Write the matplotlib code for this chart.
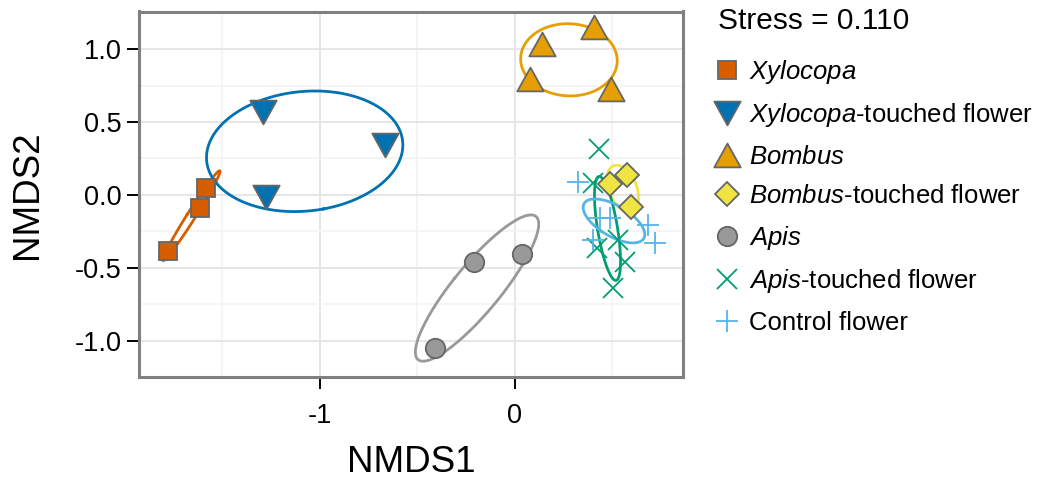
import numpy as np
import matplotlib
matplotlib.use("Agg")
import matplotlib.pyplot as plt
from matplotlib.path import Path

plt.rcParams['font.family'] = ['Liberation Sans', 'DejaVu Sans']
plt.rcParams['mathtext.fontset'] = 'custom'
plt.rcParams['mathtext.rm'] = 'Liberation Sans'
plt.rcParams['mathtext.it'] = 'Liberation Sans:italic'
plt.rcParams['axes.unicode_minus'] = False

# ---- data (NMDS scores) ----
xylocopa_x = [-1.778, -1.615, -1.585]
xylocopa_y = [-0.381, -0.091, 0.046]
xtouched_x = [-1.292, -0.667, -1.276]
xtouched_y = [0.568, 0.342, -0.012]
bombus_x = [0.137, 0.404, 0.075, 0.492]
bombus_y = [1.036, 1.153, 0.792, 0.723]
btouched_x = [0.487, 0.577, 0.594]
btouched_y = [0.075, 0.139, -0.080]
apis_x = [-0.410, -0.210, 0.037]
apis_y = [-1.046, -0.461, -0.406]
atouched_x = [0.432, 0.400, 0.530, 0.419, 0.564, 0.504]
atouched_y = [0.315, 0.079, -0.308, -0.365, -0.457, -0.639]
control_x = [0.325, 0.436, 0.487, 0.400, 0.682, 0.718]
control_y = [0.091, -0.158, -0.158, -0.308, -0.205, -0.329]

group_labels = [r'$\mathit{Xylocopa}$',
                r'$\mathit{Xylocopa}$-touched flower',
                r'$\mathit{Bombus}$',
                r'$\mathit{Bombus}$-touched flower',
                r'$\mathit{Apis}$',
                r'$\mathit{Apis}$-touched flower',
                'Control flower']
stress_text = 'Stress = 0.110'
x_ticks = [-1, 0]
y_ticks = [-1.0, -0.5, 0.0, 0.5, 1.0]

# ---- styles ----
tri_up = Path([(-1, -0.9), (1, -0.9), (0, 0.9), (-1, -0.9)],
              [Path.MOVETO, Path.LINETO, Path.LINETO, Path.CLOSEPOLY])
tri_dn = Path([(-1, 0.9), (1, 0.9), (0, -0.9), (-1, 0.9)],
              [Path.MOVETO, Path.LINETO, Path.LINETO, Path.CLOSEPOLY])
edge = '#666666'
groups = [
    (xylocopa_x, xylocopa_y, dict(marker='s', ms=13.5, mfc='#D55E00', mec=edge, mew=1.3), '#D55E00'),
    (xtouched_x, xtouched_y, dict(marker=tri_dn, ms=19, mfc='#0072B2', mec=edge, mew=1.3), '#0072B2'),
    (bombus_x, bombus_y, dict(marker=tri_up, ms=19, mfc='#E69F00', mec=edge, mew=1.3), '#E69F00'),
    (btouched_x, btouched_y, dict(marker='D', ms=12, mfc='#F0E442', mec=edge, mew=1.3), '#F0E442'),
    (apis_x, apis_y, dict(marker='o', ms=14, mfc='#999999', mec=edge, mew=1.3), '#999999'),
    (atouched_x, atouched_y, dict(marker='x', ms=15, mec='#009E73', mew=1.3), '#009E73'),
    (control_x, control_y, dict(marker='+', ms=16.5, mec='#56B4E9', mew=1.3), '#56B4E9'),
]

fig = plt.figure(figsize=(10.38, 4.8), dpi=100)
ax = fig.add_axes([139/1038, 103/480, 544/1038, 365.5/480])
ax.set_xlim(-1.928, 0.862)
ax.set_ylim(-1.247, 1.257)

chi = -2 * np.log(0.05)  # chi-square 0.95, 2 df
t = np.linspace(0, 2*np.pi, 200)
handles = []
for gx, gy, st, col in groups:
    pts = np.column_stack([gx, gy])
    n = len(pts)
    mu = pts.mean(axis=0)
    cov = np.cov(pts.T)
    vals, vecs = np.linalg.eigh(cov)
    vals = np.clip(vals, 0, None)
    k = np.sqrt(chi / n)
    circ = np.vstack([np.cos(t), np.sin(t)])
    ell = mu[:, None] + k * (vecs @ np.diag(np.sqrt(vals)) @ circ)
    ax.plot(ell[0], ell[1], color=col, lw=2.0, zorder=2)
for (gx, gy, st, col), lab in zip(groups, group_labels):
    h, = ax.plot(gx, gy, ls='none', zorder=3, label=lab, **st)
    handles.append(h)

# grid & axes styling
ax.set_xticks(x_ticks)
ax.set_xticks([-1.5, -0.5, 0.5], minor=True)
ax.set_yticks(y_ticks)
ax.set_yticks([-0.75, -0.25, 0.25, 0.75], minor=True)
ax.set_yticklabels([f'{v:.1f}' for v in y_ticks])
ax.set_xticklabels([f'{v:d}' for v in x_ticks])
ax.grid(True, which='major', color='#e6e6e6', lw=1.4, zorder=0)
ax.grid(True, which='minor', color='#f3f3f3', lw=1.2, zorder=0)
ax.set_axisbelow(True)
ax.tick_params(which='major', length=8.5, width=1.4, color='black',
               labelsize=19.5, pad=4)
ax.tick_params(axis='x', which='major', pad=10)
ax.tick_params(which='minor', length=0)
for s in ax.spines.values():
    s.set_color('#808080')
    s.set_linewidth(2.2)

ax.set_xlabel('NMDS1', fontsize=26.5, labelpad=12)
ax.set_ylabel('NMDS2', fontsize=26.5, labelpad=21)

fig.text(718/1038, 1 - 21/480, stress_text, fontsize=21.5,
         ha='left', va='center')
leg = fig.legend(handles=handles, labels=group_labels, loc='upper left',
                 bbox_to_anchor=(714/1038, 1 - 58/480), frameon=False,
                 fontsize=18.5, handlelength=1.0, handletextpad=0.35,
                 labelspacing=0.6, borderpad=0, borderaxespad=0)

fig.savefig('out.png', dpi=100)
